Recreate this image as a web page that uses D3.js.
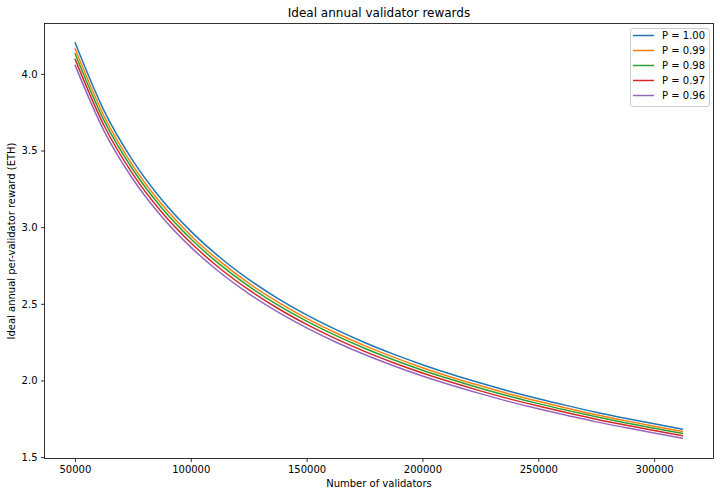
<!DOCTYPE html>
<html><head><meta charset="utf-8">
<script src="https://cdn.jsdelivr.net/npm/d3@7"></script>
<style>body{margin:0;background:#fff}svg{display:block}text{font-family:"DejaVu Sans",sans-serif;fill:#000}</style>
</head><body><div id="c"></div>
<script>
const xs = [50000,62500,75000,87500,100000,112500,125000,137500,150000,162500,175000,187500,200000,212500,225000,237500,250000,262500,275000,287500,300000,312500];
const p100 = [4.206,3.762,3.434,3.179,2.974,2.804,2.660,2.536,2.428,2.333,2.248,2.172,2.103,2.040,1.983,1.930,1.881,1.836,1.793,1.754,1.717,1.682];
const p099 = [4.167,3.727,3.402,3.149,2.946,2.778,2.635,2.512,2.405,2.311,2.227,2.152,2.083,2.021,1.965,1.912,1.864,1.819,1.776,1.738,1.701,1.666];
const p098 = [4.135,3.698,3.376,3.125,2.924,2.757,2.615,2.493,2.387,2.294,2.210,2.135,2.067,2.006,1.949,1.897,1.849,1.805,1.763,1.724,1.688,1.654];
const p097 = [4.098,3.665,3.346,3.097,2.898,2.732,2.592,2.471,2.366,2.273,2.190,2.116,2.049,1.988,1.932,1.880,1.833,1.789,1.747,1.709,1.673,1.639];
const p096 = [4.059,3.630,3.314,3.068,2.870,2.706,2.567,2.447,2.343,2.251,2.169,2.096,2.029,1.969,1.914,1.862,1.815,1.772,1.730,1.693,1.657,1.623];
const labels = ["P = 1.00","P = 0.99","P = 0.98","P = 0.97","P = 0.96"];
const colors = ["#1f77b4","#ff7f0e","#2ca02c","#d62728","#9467bd"];
const xTicks = [50000,100000,150000,200000,250000,300000];
const yTicks = [1.5,2.0,2.5,3.0,3.5,4.0];
const series = [p100,p099,p098,p097,p096];

const W=720,H=496, L=44.5, R=713.5, T=23.5, B=458.5;
const svg=d3.select("#c").append("svg").attr("width",W).attr("height",H);
const x=d3.scaleLinear().domain([36875,325625]).range([L,R]);
const y=d3.scaleLinear().domain([1.491,4.3285]).range([B,T]);

const line=d3.line().x((d,i)=>x(xs[i])).y(d=>y(d)).curve(d3.curveMonotoneX);
series.forEach((s,i)=>{
  svg.append("path").datum(s).attr("d",line).attr("fill","none").attr("stroke",colors[i]).attr("stroke-width",1.5);
});

const xa=svg.append("g").attr("transform",`translate(0,${B})`).call(d3.axisBottom(x).tickValues(xTicks).tickFormat(d3.format("d")).tickSize(3.5).tickPadding(3.5));
const ya=svg.append("g").attr("transform",`translate(${L},0)`).call(d3.axisLeft(y).tickValues(yTicks).tickFormat(d3.format(".1f")).tickSize(3.5).tickPadding(3.5));
[xa,ya].forEach(a=>{a.select(".domain").remove();a.selectAll("text").attr("font-size",10).attr("font-family","DejaVu Sans").attr("fill","#000");a.selectAll("line").attr("stroke","#000").attr("stroke-width",0.8);});
svg.append("rect").attr("x",L).attr("y",T).attr("width",R-L).attr("height",B-T).attr("fill","none").attr("stroke","#000").attr("stroke-width",0.8);

svg.append("text").attr("x",(L+R)/2).attr("y",17).attr("text-anchor","middle").attr("font-size",12).text("Ideal annual validator rewards");
svg.append("text").attr("x",(L+R)/2).attr("y",487).attr("text-anchor","middle").attr("font-size",10).text("Number of validators");
svg.append("text").attr("transform",`translate(15,${(T+B)/2}) rotate(-90)`).attr("text-anchor","middle").attr("font-size",10).text("Ideal annual per-validator reward (ETH)");

const lg=svg.append("g");
lg.append("rect").attr("x",630.5).attr("y",28.5).attr("width",79).attr("height",78).attr("rx",2.5).attr("fill","#fff").attr("fill-opacity",0.8).attr("stroke","#ccc").attr("stroke-width",1);
labels.forEach((t,i)=>{
  const yy=35.5+i*15;
  lg.append("line").attr("x1",633).attr("x2",654).attr("y1",yy).attr("y2",yy).attr("stroke",colors[i]).attr("stroke-width",1.5);
  lg.append("text").attr("x",662).attr("y",yy+3.6).attr("font-size",10).text(t);
});
</script></body></html>
